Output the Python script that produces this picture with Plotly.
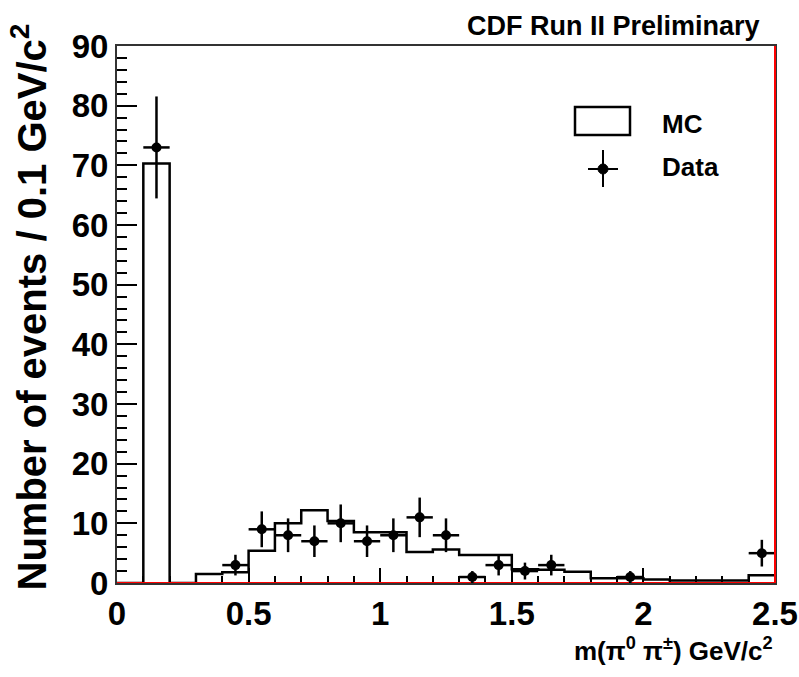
import numpy as np
import plotly.graph_objects as go

# ---- data ----
bin_edges = [round(0.1 * i, 1) for i in range(26)]
mc_counts = [0, 70.3, 0, 1.5, 1.8, 5.4, 10.0, 12.2, 10.4, 8.5, 8.5, 5.2, 5.6,
             4.7, 4.7, 2.3, 2.2, 1.9, 0.8, 0.8, 0.6, 0.4, 0.4, 0.4, 1.3]
data_counts = [0, 73, 0, 0, 3, 9, 8, 7, 10, 7, 8, 11, 8,
               1, 3, 2, 3, 0, 0, 1, 0, 0, 0, 0, 5]
bkg_counts = [0] * 25
x_tick_vals = [0, 0.5, 1, 1.5, 2, 2.5]
x_tick_text = ["0", "0.5", "1", "1.5", "2", "2.5"]

FONT = "Liberation Sans, Arial, sans-serif"

edges = np.array(bin_edges)
centers = 0.5 * (edges[:-1] + edges[1:])
halfw = 0.5 * (edges[1:] - edges[:-1])
dc = np.array(data_counts, dtype=float)
mask = dc > 0

fig = go.Figure()

# MC histogram (step outline)
fig.add_trace(go.Scatter(
    x=edges, y=list(mc_counts) + [mc_counts[-1]],
    mode="lines", line=dict(shape="hv", color="black", width=2.5),
    showlegend=False, hoverinfo="skip"))

# red (empty) histogram along zero
fig.add_trace(go.Scatter(
    x=edges, y=list(bkg_counts) + [bkg_counts[-1]],
    mode="lines", line=dict(shape="hv", color="red", width=2),
    showlegend=False, hoverinfo="skip"))

# Data points
fig.add_trace(go.Scatter(
    x=centers[mask], y=dc[mask], mode="markers",
    marker=dict(color="black", size=10),
    error_y=dict(type="data", array=np.sqrt(dc[mask]), color="black",
                 thickness=2.5, width=0),
    error_x=dict(type="data", array=halfw[mask], color="black",
                 thickness=2.5, width=0),
    showlegend=False))

tickfont = dict(family=FONT, size=33, color="black", weight=700)

fig.update_layout(
    width=799, height=677,
    margin=dict(l=117, r=24, t=46, b=94),
    plot_bgcolor="white", paper_bgcolor="white",
    xaxis=dict(range=[0, 2.5], tickvals=x_tick_vals, ticktext=x_tick_text,
               ticks="inside", ticklen=15, tickwidth=2, tickcolor="black",
               minor=dict(dtick=0.1, ticks="inside", ticklen=7, tickwidth=2,
                          tickcolor="black"),
               showgrid=False, zeroline=False, showline=True,
               linecolor="#333", linewidth=2, mirror=True,
               tickfont=tickfont, layer="below traces",
               ticklabeloverflow="allow", automargin=False),
    yaxis=dict(range=[0, 90], dtick=10, tick0=0,
               ticks="inside", ticklen=20, tickwidth=2, tickcolor="black",
               minor=dict(dtick=2, ticks="inside", ticklen=10, tickwidth=2,
                          tickcolor="black"),
               showgrid=False, zeroline=False, showline=True,
               linecolor="#333", linewidth=2, mirror=True,
               tickfont=tickfont, layer="below traces",
               ticklabeloverflow="allow", automargin=False),
)

# red right frame edge
fig.add_shape(type="line", xref="x domain", yref="y domain",
              x0=1, x1=1, y0=0, y1=1, line=dict(color="red", width=2))

# Titles
fig.add_annotation(text="CDF Run II Preliminary", xref="paper", yref="paper",
                   x=0.98, y=1.0, xanchor="right", yanchor="bottom", yshift=3,
                   showarrow=False,
                   font=dict(family=FONT, size=27, color="black", weight=700))
fig.add_annotation(text="m(π<sup>0</sup> π<sup>±</sup>) GeV/c<sup>2</sup>",
                   xref="paper", yref="paper", x=1.0, y=0, xanchor="right",
                   yanchor="top", yshift=-48, showarrow=False,
                   font=dict(family=FONT, size=26, color="black", weight=700))
fig.add_annotation(text="Number of events / 0.1 GeV/c<sup>2</sup>",
                   xref="paper", yref="paper", x=0, xshift=-88, y=1.0, yshift=24,
                   xanchor="center", yanchor="top", textangle=-90, showarrow=False,
                   font=dict(family=FONT, size=40, color="black", weight=700))

# Legend (drawn manually)
fig.add_shape(type="rect", xref="paper", yref="paper",
              x0=(575 - 117) / 658, x1=(630 - 117) / 658,
              y0=(583 - 135) / 537, y1=(583 - 107) / 537,
              line=dict(color="black", width=2.5), fillcolor="white")
fig.add_annotation(text="MC", xref="paper", yref="paper",
                   x=(660 - 117) / 658, y=(583 - 124) / 537,
                   xanchor="left", yanchor="middle", showarrow=False,
                   font=dict(family=FONT, size=26, color="black", weight=700))
lx, ly = (603 - 117) / 658, (583 - 169) / 537
fig.add_shape(type="line", xref="paper", yref="paper",
              x0=lx - 15 / 658, x1=lx + 15 / 658, y0=ly, y1=ly,
              line=dict(color="black", width=2))
fig.add_shape(type="line", xref="paper", yref="paper",
              x0=lx, x1=lx, y0=ly - 18 / 537, y1=ly + 19 / 537,
              line=dict(color="black", width=2))
fig.add_shape(type="circle", xref="paper", yref="paper",
              x0=lx - 5 / 658, x1=lx + 5 / 658, y0=ly - 5 / 537, y1=ly + 5 / 537,
              line=dict(color="black", width=1), fillcolor="black")
fig.add_annotation(text="Data", xref="paper", yref="paper",
                   x=(660 - 117) / 658, y=(583 - 167) / 537,
                   xanchor="left", yanchor="middle", showarrow=False,
                   font=dict(family=FONT, size=26, color="black", weight=700))

fig.write_html("out.html")
